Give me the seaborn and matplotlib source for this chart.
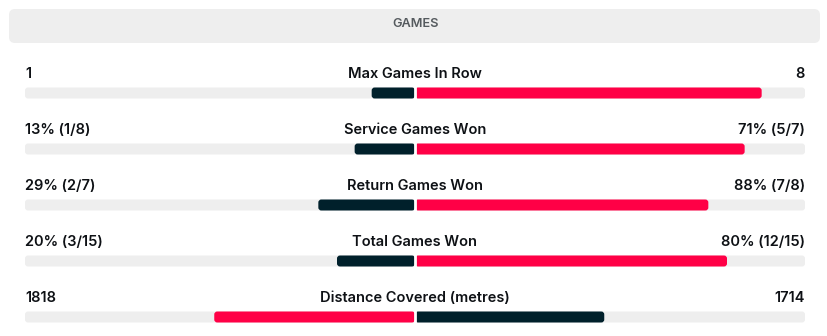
import matplotlib
matplotlib.use("Agg")
import matplotlib.pyplot as plt
import seaborn as sns
import pandas as pd
from matplotlib.patches import FancyBboxPatch

# ---- data ----
section_title = "GAMES"
stats = ["Max Games In Row", "Service Games Won", "Return Games Won",
         "Total Games Won", "Distance Covered (metres)"]
left_values = [1, 13, 29, 20, 1818]
right_values = [8, 71, 88, 80, 1714]
left_labels = ["1", "13% (1/8)", "29% (2/7)", "20% (3/15)", "1818"]
right_labels = ["8", "71% (5/7)", "88% (7/8)", "80% (12/15)", "1714"]

RED = "#FF0046"
DARK = "#00202B"
TRACK = "#EEEEEE"

sns.set_theme(style="white")
plt.rcParams["font.family"] = ["Inter", "DejaVu Sans"]

W, H = 828, 336
fig = plt.figure(figsize=(W / 100, H / 100), dpi=100)

x0, x1 = 25, 805
ax = fig.add_axes([x0 / W, 0, (x1 - x0) / W, 1])
row0, step = 93, 56

df = pd.DataFrame({"stat": stats, "left": left_values, "right": right_values})
tot = df["left"] + df["right"]
df["left_len"] = -df["left"] / tot
df["right_len"] = df["right"] / tot
df["track_l"] = -1.0
df["track_r"] = 1.0
left_colors = [RED if l > r else DARK for l, r in zip(left_values, right_values)]
right_colors = [RED if r > l else DARK for l, r in zip(left_values, right_values)]

bh = 11 / step
sns.barplot(data=df, y="stat", x="track_l", color=TRACK, width=bh, orient="h",
            ax=ax, saturation=1)
sns.barplot(data=df, y="stat", x="track_r", color=TRACK, width=bh, orient="h",
            ax=ax, saturation=1)
sns.barplot(data=df, y="stat", x="left_len", hue="stat", palette=left_colors,
            width=bh, orient="h", ax=ax, legend=False, saturation=1)
sns.barplot(data=df, y="stat", x="right_len", hue="stat", palette=right_colors,
            width=bh, orient="h", ax=ax, legend=False, saturation=1)
ax.set_xlim(-1, 1)
ax.set_ylim((H - row0) / step, -row0 / step)
ax.axis("off")

# round corners of bars
px_x = 2 / (x1 - x0)
px_y = 1 / step
rad_px = 3
for p in list(ax.patches):
    x, y = p.get_x(), p.get_y()
    w, h = p.get_width(), p.get_height()
    if w < 0:
        x, w = x + w, -w
    fc = p.get_facecolor()
    z = p.get_zorder()
    p.remove()
    fb = FancyBboxPatch((x, y), w, h,
                        boxstyle=f"round,pad=0,rounding_size={rad_px * px_x}",
                        mutation_aspect=px_y / px_x, facecolor=fc,
                        edgecolor="none", zorder=z)
    ax.add_patch(fb)

# white gap at center
ax.axvline(0, color="white", lw=2.0, zorder=5)

TXT = "#0e1115"
for i, s in enumerate(stats):
    ty = i - 19.5 / step
    ax.text(-1, ty, left_labels[i], ha="left", va="center", fontsize=10.5,
            color=TXT, fontweight="semibold", zorder=10)
    ax.text(0, ty, s, ha="center", va="center", fontsize=10.5,
            color=TXT, fontweight="semibold", zorder=10)
    ax.text(1, ty, right_labels[i], ha="right", va="center", fontsize=10.5,
            color=TXT, fontweight="semibold", zorder=10)

# header
hdr = FancyBboxPatch((9 / W, 1 - 43 / H), (820 - 9) / W, 34 / H,
                     boxstyle=f"round,pad=0,rounding_size={6 / W}",
                     mutation_aspect=W / H,
                     transform=fig.transFigure, facecolor=TRACK,
                     edgecolor="none", zorder=0)
fig.patches.append(hdr)
fig.text(415.5 / W, 1 - 24 / H, section_title,
         ha="center", va="center", fontsize=9.2, color="#555a5e",
         fontweight="semibold")

fig.savefig("out.png", dpi=100, facecolor="white")
